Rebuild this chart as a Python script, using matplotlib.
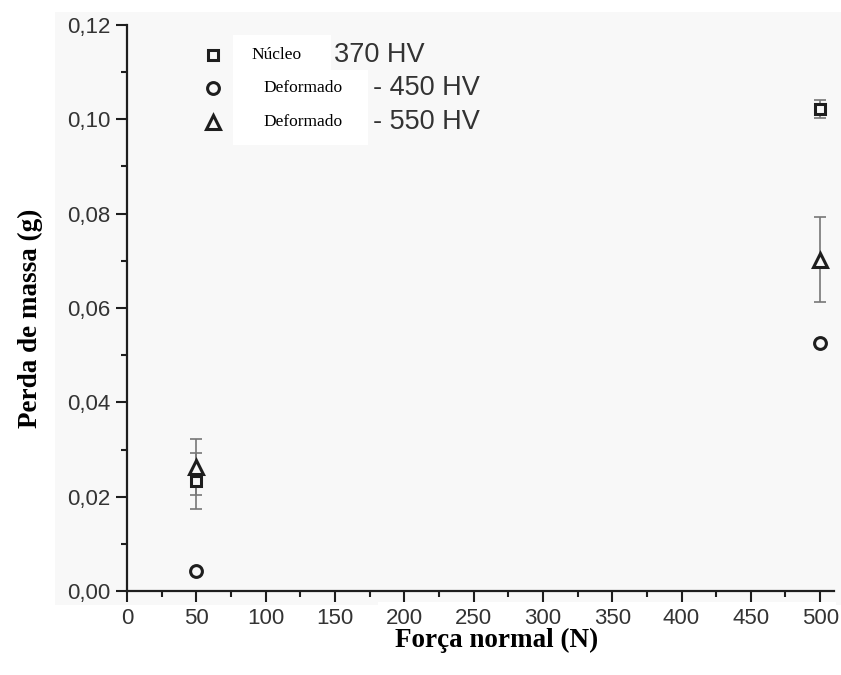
import matplotlib
matplotlib.use("Agg")
import matplotlib.pyplot as plt
from matplotlib.lines import Line2D
from matplotlib.patches import Rectangle
from matplotlib.ticker import MultipleLocator, FuncFormatter

# Data
forces = [50, 500]
nucleo = [0.0233, 0.1022]
nucleo_err = [0.0060, 0.0020]
def450 = [0.0043, 0.0526]
def450_err = [0.0, 0.0]
def550 = [0.0263, 0.0702]
def550_err = [0.0060, 0.0090]

series_names = ["370 HV", "- 450 HV", "- 550 HV"]
series_tags = ["Núcleo", "Deformado", "Deformado"]
series_markers = ["s", "o", "^"]
marker_sizes = [6.5, 8.5, 10.5]

BG = "#f8f8f8"
INK = "#1e1e1e"
TXT = "#333333"

fig = plt.figure(figsize=(8.41, 6.75), dpi=100, facecolor="white")
W, H = 841, 675

def fig_box(x0, y0, x1, y1, color):
    # pixel box (top-left origin) in figure coords
    fig.patches.append(Rectangle((x0 / W, 1 - y1 / H), (x1 - x0) / W, (y1 - y0) / H,
                                 transform=fig.transFigure, facecolor=color,
                                 edgecolor="none", zorder=-10))

# grey page of the original figure, white patches pasted over the labels
fig_box(55, 12, 841, 605, BG)
fig_box(0, 195, 55, 435, "white")
fig_box(378, 602, 836, 668, "white")

ax = fig.add_axes([127 / W, 1 - 591 / H, (834 - 127) / W, (591 - 25) / H])
ax.set_facecolor("none")

for vals, errs, m, ms in zip([nucleo, def450, def550],
                              [nucleo_err, def450_err, def550_err],
                              series_markers, marker_sizes):
    ax.errorbar(forces, vals, yerr=errs, fmt="none", ecolor="#777777",
                elinewidth=1.2, capsize=4, capthick=1.2, zorder=2)
    ax.plot(forces, vals, linestyle="none", marker=m, markersize=ms,
            markerfacecolor=BG, markeredgecolor=INK, markeredgewidth=2.2, zorder=3)

ax.set_xlim(0, 510)
ax.set_ylim(0, 0.12)
ax.xaxis.set_major_locator(MultipleLocator(50))
ax.xaxis.set_minor_locator(MultipleLocator(25))
ax.yaxis.set_major_locator(MultipleLocator(0.02))
ax.yaxis.set_minor_locator(MultipleLocator(0.01))
ax.yaxis.set_major_formatter(FuncFormatter(lambda v, p: f"{v:.2f}".replace(".", ",")))

for s in ["top", "right"]:
    ax.spines[s].set_visible(False)
for s in ["left", "bottom"]:
    ax.spines[s].set_linewidth(1.6)
    ax.spines[s].set_color(INK)

ax.tick_params(which="major", direction="out", length=8, width=1.5, color=INK,
               labelsize=16, labelcolor=TXT, pad=4)
ax.tick_params(which="minor", direction="out", length=4.5, width=1.5, color=INK)
for lab in ax.get_xticklabels() + ax.get_yticklabels():
    lab.set_fontfamily("Liberation Sans")

# legend, drawn by hand like the original
leg_y = [0.947, 0.889, 0.829]
for m, yy, ms in zip(series_markers, leg_y, marker_sizes):
    ax.add_line(Line2D([0.1216], [yy], transform=ax.transAxes, marker=m,
                       markersize=ms, markerfacecolor=BG, markeredgecolor=INK,
                       markeredgewidth=2.2, linestyle="none", clip_on=False))

fig_box(233, 35, 331, 70, "white")
fig_box(233, 70, 368, 145, "white")
tag_x = [277, 303, 303]
name_x = [334, 373, 373]
row_y = [55, 88, 122]
for tag, name, tx, nx, ry in zip(series_tags, series_names, tag_x, name_x, row_y):
    fig.text(tx / W, 1 - ry / H, tag, ha="center", va="center",
             fontfamily="Liberation Serif", fontsize=12.5, color="black")
    fig.text(nx / W, 1 - ry / H, name, ha="left", va="center",
             fontfamily="Liberation Sans", fontsize=19.5, color=TXT)

fig.text(30 / W, 1 - 318 / H, "Perda de massa (g)", rotation=90, ha="center",
         va="center", fontfamily="Liberation Serif", fontweight="bold",
         fontsize=19.5, color="black")
fig.text(497 / W, 1 - 640 / H, "Força normal (N)", ha="center", va="center",
         fontfamily="Liberation Serif", fontweight="bold", fontsize=19.5,
         color="black")

fig.savefig("out.png", dpi=100, facecolor="white")
